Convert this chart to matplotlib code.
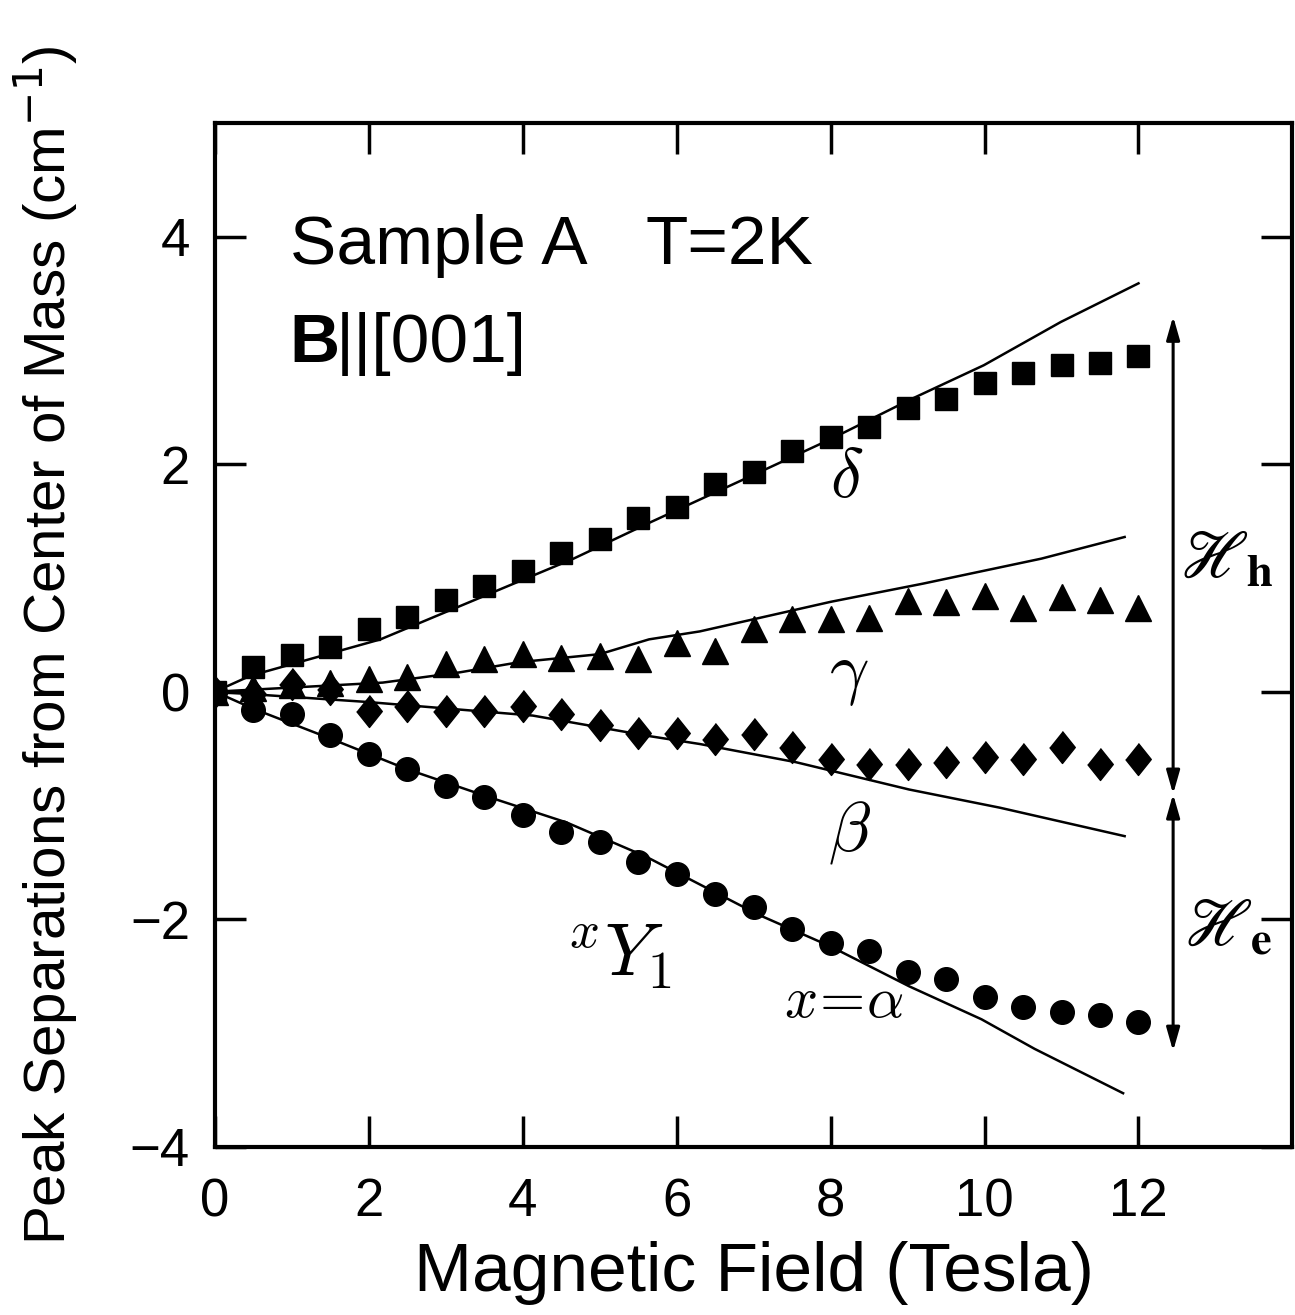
import numpy as np
import matplotlib
matplotlib.use('Agg')
import matplotlib.pyplot as plt

plt.rcParams['font.family'] = ['Liberation Sans', 'DejaVu Sans']

# Magnetic field (Tesla)
field = [0, 0.5, 1.0, 1.5, 2.0, 2.5, 3.0, 3.5, 4.0, 4.5, 5.0, 5.5, 6.0,
         6.5, 7.0, 7.5, 8.0, 8.5, 9.0, 9.5, 10.0, 10.5, 11.0, 11.5, 12.0]

# measured peak separations (cm^-1)
delta_pts = [0, 0.22, 0.32, 0.39, 0.55, 0.66, 0.81, 0.93, 1.06, 1.22, 1.34, 1.53, 1.62,
             1.83, 1.93, 2.12, 2.24, 2.33, 2.49, 2.57, 2.71, 2.80, 2.87, 2.89, 2.95]
gamma_pts = [0, 0.03, 0.06, 0.08, 0.11, 0.13, 0.24, 0.29, 0.33, 0.30, 0.31, 0.29, 0.43,
             0.36, 0.55, 0.64, 0.64, 0.65, 0.80, 0.79, 0.84, 0.74, 0.83, 0.81, 0.74]
beta_pts = [0, -0.02, 0.07, 0.02, -0.17, -0.13, -0.17, -0.17, -0.13, -0.20, -0.29, -0.36, -0.36,
            -0.42, -0.37, -0.49, -0.59, -0.64, -0.64, -0.62, -0.57, -0.59, -0.49, -0.64, -0.59]
alpha_pts = [0, -0.16, -0.20, -0.38, -0.55, -0.68, -0.83, -0.93, -1.08, -1.23, -1.32, -1.50, -1.60,
             -1.78, -1.89, -2.09, -2.21, -2.28, -2.46, -2.53, -2.68, -2.77, -2.82, -2.84, -2.90]

# calculated curves
delta_fx = [0, 0.46, 2.15, 3.67, 4.66, 5.66, 7.17, 8.0, 9.04, 9.99, 10.99, 12.0]
delta_fy = [0, 0.14, 0.46, 0.89, 1.17, 1.49, 1.96, 2.22, 2.57, 2.87, 3.25, 3.59]
gamma_fx = [0, 1.1, 2.18, 3.18, 3.96, 5.0, 5.64, 6.3, 8.0, 9.2, 10.74, 11.82]
gamma_fy = [0, 0.04, 0.08, 0.17, 0.26, 0.33, 0.46, 0.53, 0.79, 0.95, 1.17, 1.36]
beta_fx = [0, 1.97, 4.13, 5.64, 6.3, 7.55, 9.02, 10.2, 11.82]
beta_fy = [0, -0.09, -0.21, -0.39, -0.46, -0.62, -0.86, -1.02, -1.27]
alpha_fx = [0, 0.5, 1.53, 2.49, 3.53, 4.57, 5.6, 7.06, 8.0, 9.02, 9.96, 10.65, 11.8]
alpha_fy = [0, -0.15, -0.42, -0.68, -0.92, -1.15, -1.45, -1.96, -2.24, -2.59, -2.88, -3.14, -3.53]

fig = plt.figure(figsize=(12.95, 13.15), dpi=100)
ax = fig.add_axes([0.166, 0.128, 0.832, 0.7785])

for fx, fy in [(delta_fx, delta_fy), (gamma_fx, gamma_fy), (beta_fx, beta_fy), (alpha_fx, alpha_fy)]:
    ax.plot(fx, fy, color='black', lw=1.8, zorder=2)

thin_diamond = [(0, 1), (0.8, 0), (0, -1), (-0.8, 0)]
ax.plot(field, delta_pts, 's', color='black', ms=16, zorder=3)
ax.plot(field, gamma_pts, '^', color='black', ms=19, zorder=3)
ax.plot(field, beta_pts, marker=thin_diamond, ls='none', color='black', ms=23, zorder=3)
ax.plot(field, alpha_pts, 'o', color='black', ms=17, zorder=3)

# double arrows on the right
arrow_kw = dict(arrowstyle='<|-|>,head_length=1.4,head_width=0.4', color='black', lw=2.2,
                shrinkA=0, shrinkB=0)
ax.annotate('', xy=(12.45, 3.30), xytext=(12.45, -0.90), arrowprops=arrow_kw)
ax.annotate('', xy=(12.45, -0.90), xytext=(12.45, -3.16), arrowprops=arrow_kw)

# labels
greek = dict(fontsize=50, math_fontfamily='cm', ha='center', va='center')
ax.text(8.21, 1.87, r'$\delta$', **greek)
ax.text(8.24, 0.14, r'$\gamma$', **greek)
ax.text(8.24, -1.24, r'$\beta$', **greek)
ax.text(8.17, -2.73, r'$x\!=\!\alpha$', fontsize=42, math_fontfamily='cm', ha='center', va='center')
ax.text(5.25, -2.33, r'$^{x}Y_{1}$', fontsize=54, math_fontfamily='cm', ha='center', va='center')
ax.text(13.15, 1.16, r'$\mathscr{H}_{\mathbf{h}}$', fontsize=48, math_fontfamily='stix',
        ha='center', va='center')
ax.text(13.17, -2.08, r'$\mathscr{H}_{\mathbf{e}}$', fontsize=48, math_fontfamily='stix',
        ha='center', va='center')

ax.text(0.97, 3.76, 'Sample A', fontsize=50)
ax.text(5.6, 3.76, 'T=2K', fontsize=50)
ax.text(0.97, 2.90, 'B', fontsize=50, fontweight='bold')
ax.text(1.57, 2.90, '||[001]', fontsize=50)

ax.set_xlim(0, 14)
ax.set_ylim(-4, 5)
ax.set_xticks([0, 2, 4, 6, 8, 10, 12])
ax.set_yticks([-4, -2, 0, 2, 4])
ax.tick_params(direction='in', length=22, width=2.5, top=True, right=True,
               labelsize=38, pad=18)
ax.tick_params(axis='x', pad=22)
for s in ax.spines.values():
    s.set_linewidth(3)

ax.set_xlabel('Magnetic Field (Tesla)', fontsize=50, labelpad=10)
ax.set_ylabel(r'Peak Separations from Center of Mass (cm$^{-1}$)', fontsize=42)
ax.yaxis.set_label_coords(-0.125, 0.49)

fig.savefig('out.png', dpi=100)
